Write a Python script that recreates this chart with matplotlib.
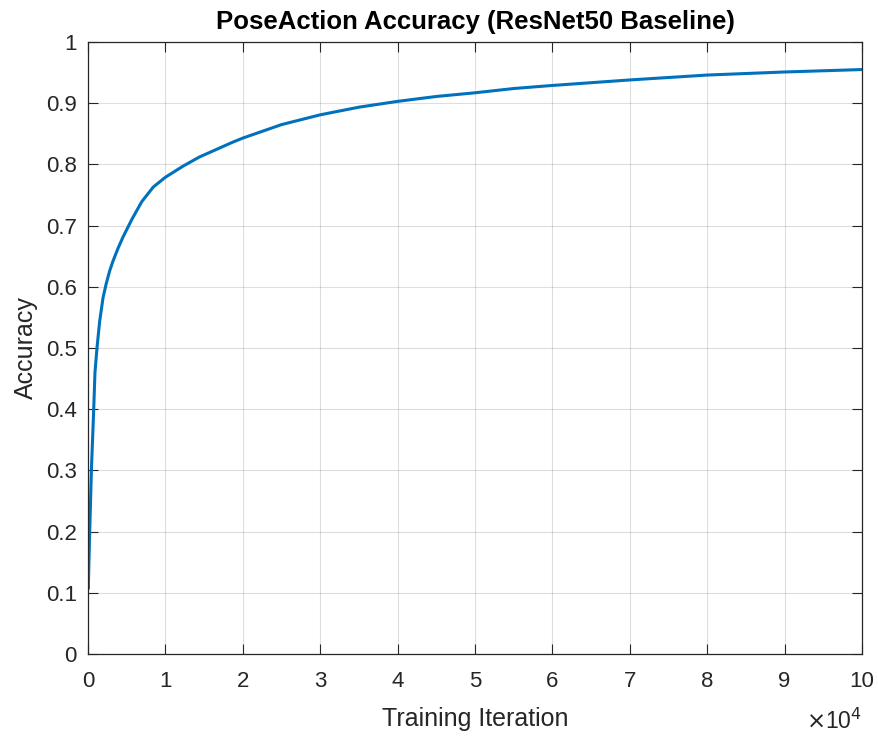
import numpy as np
import matplotlib
matplotlib.use('Agg')
import matplotlib.pyplot as plt
from matplotlib.ticker import FuncFormatter, MultipleLocator

# values
iters = [0, 40, 120, 220, 440, 735, 900, 1160, 1510, 1940, 2370, 2800, 3230,
         3850, 4510, 5660, 6940, 8430, 10000, 12260, 14380, 16510, 18640,
         20000, 25000, 30000, 35000, 40000, 45000, 50000, 55000, 60000,
         70000, 80000, 90000, 100000]
acc = [0.175, 0.107, 0.15, 0.199, 0.301, 0.399, 0.46, 0.50, 0.544, 0.582,
       0.606, 0.626, 0.642, 0.662, 0.681, 0.71, 0.739, 0.763, 0.779, 0.797,
       0.812, 0.824, 0.836, 0.843, 0.865, 0.881, 0.8935, 0.903, 0.911,
       0.917, 0.924, 0.929, 0.938, 0.946, 0.951, 0.955]

plt.rcParams['font.family'] = ['Liberation Sans', 'DejaVu Sans']
dark = (0.15, 0.15, 0.15)

fig = plt.figure(figsize=(8.79, 7.36), dpi=100)
ax = fig.add_axes([88/879, 1-654/736, (862-88)/879, (654-42)/736])

ax.plot(iters, acc, color=(0, 0.447, 0.741), lw=2.2, solid_capstyle='round')

ax.set_xlim(0, 100000)
ax.set_ylim(0, 1)
ax.xaxis.set_major_locator(MultipleLocator(10000))
ax.yaxis.set_major_locator(MultipleLocator(0.1))
ax.xaxis.set_major_formatter(FuncFormatter(lambda v, p: '%g' % (v/1e4)))
ax.yaxis.set_major_formatter(FuncFormatter(lambda v, p: '%g' % round(v, 1)))

ax.grid(True, color=dark, alpha=0.15, lw=0.8)
ax.tick_params(direction='in', length=7, width=0.8, colors=dark,
               labelcolor=dark, labelsize=16, top=True, right=True)
ax.tick_params(axis='x', pad=12)
ax.tick_params(axis='y', pad=8)
for s in ax.spines.values():
    s.set_color(dark)
    s.set_linewidth(0.9)

ax.set_title('PoseAction Accuracy (ResNet50 Baseline)', fontsize=18.5,
             fontweight='bold', color='black', pad=9)
ax.set_xlabel('Training Iteration', fontsize=18, color=dark, labelpad=11)
ax.set_ylabel('Accuracy', fontsize=18, color=dark, labelpad=6)
ax.text(1.0, -0.09, r'$\times$10$^4$', transform=ax.transAxes,
        ha='right', va='top', fontsize=16.5, color=dark)

fig.savefig('out.png', dpi=100)
